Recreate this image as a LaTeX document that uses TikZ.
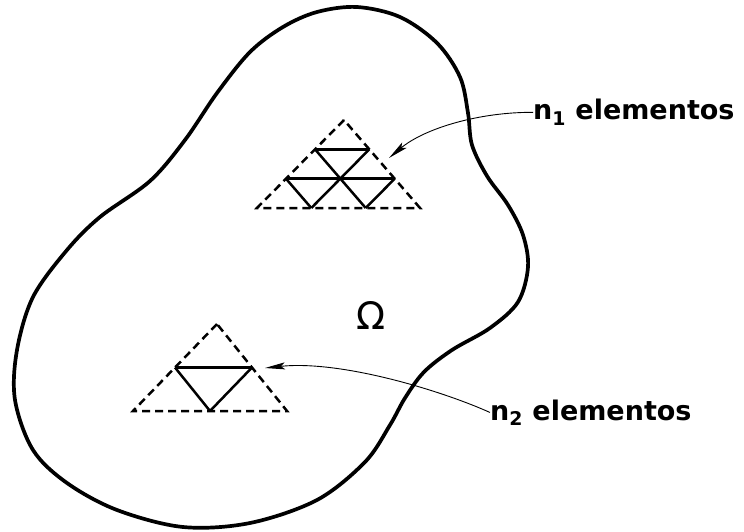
\documentclass[tikz,border=0pt]{standalone}
\usepackage{fontspec}
\setmainfont{DejaVu Sans}
\usetikzlibrary{arrows.meta}

\begin{document}
\begin{tikzpicture}[x=1pt,y=-1pt,
  rim/.style={line width=3.7pt},
  meshline/.style={line width=2.5pt},
  bordline/.style={line width=2.5pt,dash pattern=on 8pt off 5pt},
  lbl/.style={anchor=base west,inner sep=0pt,font=\bfseries\fontsize{27}{32}\selectfont},
  pointer/.style={line width=.9pt,-{Stealth[length=20pt,width=7pt,inset=4pt]}}]
\path[use as bounding box] (0,0) rectangle (744,532);
% domain
\draw[rim] plot[smooth cycle,tension=.55] coordinates {
  (357,7) (400,17) (437,43) (460,77) (468,113) (472,145) (487,176) (508,205)
  (523,235) (528,267) (518,302) (490,328) (452,350) (424,372) (405,398)
  (390,425) (365,462) (317,500) (250,523) (183,527) (117,510) (67,483)
  (33,450) (15,400) (17,350) (33,297) (67,250) (100,217) (150,181)
  (185,140) (217,93) (250,52) (283,27) (317,12)};
\node[font=\fontsize{38}{42}\selectfont,inner sep=0pt] (omega) at (371,315) {Ω};
% n1 triangle
\draw[meshline] (315,149.3) -- (369.3,149.3);
\draw[meshline] (286,178.7) -- (394.7,178.7);
\draw[meshline] (315,149.3) -- (365.7,208);
\draw[meshline] (369.3,149.3) -- (311.3,208);
\draw[meshline] (286,178.7) -- (311.3,208);
\draw[meshline] (394.7,178.7) -- (365.7,208);
\draw[bordline] (344,120) -- (257,208) -- (420,208) -- cycle;
% n2 triangle
\draw[meshline] (175,367.5) -- (252,367.5);
\draw[meshline] (175,367.5) -- (210,411);
\draw[meshline] (252,367.5) -- (210,411);
\draw[bordline] (217,324) -- (133,411) -- (287,411) -- cycle;
% labels
\node[lbl] (lab1) at (533,120) {n\textsubscript{1} elementos};
\node[lbl] (lab2) at (490,420) {n\textsubscript{2} elementos};
\coordinate (tip1) at (389,158);
\coordinate (tip2) at (265,368);
\draw[pointer] (lab1.west) .. controls (480,112) and (425,128) .. (tip1);
\draw[pointer] (lab2.west) .. controls (440,390) and (340,360) .. (tip2);
\end{tikzpicture}
\end{document}
